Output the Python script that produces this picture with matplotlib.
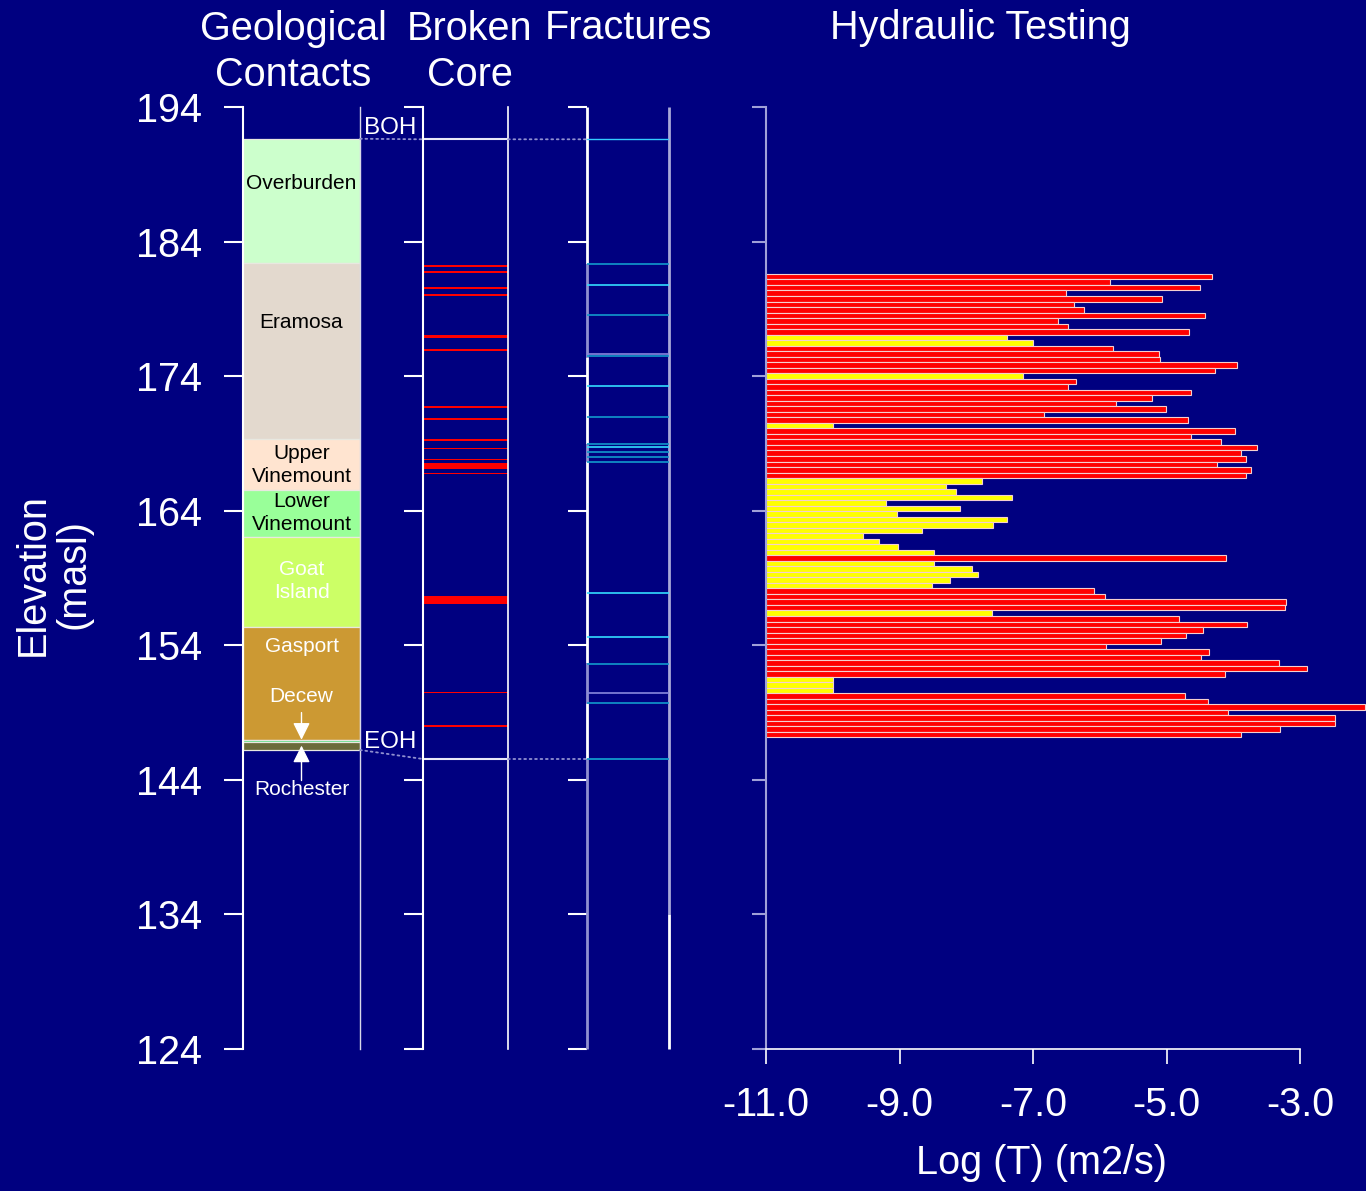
import matplotlib
matplotlib.use('Agg')
import matplotlib.pyplot as plt
from matplotlib.patches import ConnectionPatch

plt.rcParams['font.family'] = ['Liberation Sans', 'DejaVu Sans']
plt.rcParams['axes.unicode_minus'] = False

# ---------------- data ----------------
elev_ticks = [124, 134, 144, 154, 164, 174, 184, 194]
logT_ticks = [-11.0, -9.0, -7.0, -5.0, -3.0]

# geological contacts (masl)
unit_names = ['Overburden', 'Eramosa', 'Upper Vinemount', 'Lower Vinemount',
              'Goat Island', 'Gasport', 'Decew', 'Rochester']
unit_top = [191.64, 182.43, 169.31, 165.54, 162.07, 155.33, 146.98, 146.78]
unit_bot = [182.43, 169.31, 165.54, 162.07, 155.33, 146.98, 146.78, 146.22]
unit_colors = ['#CCFFCC', '#E3D9CE', '#FFE4D0', '#99FF99',
               '#CCFF66', '#CC9933', '#44DD77', '#6B6B3A']

boh_elev = 191.6
eoh_elev = 145.55

# broken core intervals (masl)
core_top = [182.28, 181.81, 180.62, 180.12, 177.06, 176.04, 171.80, 170.91,
            169.35, 168.68, 167.86, 167.57, 166.81, 157.65, 150.54, 148.10]
core_bot = [182.13, 181.66, 180.47, 179.97, 176.80, 175.89, 171.65, 170.76,
            169.18, 168.58, 167.79, 167.13, 166.74, 157.08, 150.46, 147.95]

# fractures (masl) and type: 'o' open, 'p' partial, 'c' closed
frac_elev = [182.36, 180.80, 178.57, 175.61, 175.48, 173.30, 170.93, 168.97,
             168.75, 168.38, 167.97, 167.65, 157.91, 154.63, 152.63, 150.48, 149.71]
frac_type = ['p', 'o', 'p', 'c', 'p', 'o', 'p', 'p',
             'o', 'p', 'p', 'p', 'o', 'o', 'p', 'c', 'p']

# hydraulic test intervals: mid elevation (masl), log T (m2/s), flag (R measured, Y limit)
test_elev = [181.39, 180.98, 180.57, 180.16, 179.75, 179.34, 178.93, 178.52, 178.11, 177.70,
             177.29, 176.88, 176.47, 176.06, 175.65, 175.24, 174.83, 174.42, 174.01, 173.60,
             173.19, 172.78, 172.37, 171.96, 171.55, 171.14, 170.73, 170.32, 169.91, 169.50,
             169.09, 168.68, 168.27, 167.86, 167.45, 167.04, 166.63, 166.22, 165.81, 165.40,
             164.99, 164.58, 164.17, 163.76, 163.35, 162.94, 162.53, 162.12, 161.71, 161.30,
             160.89, 160.48, 160.07, 159.66, 159.25, 158.84, 158.43, 158.02, 157.61, 157.20,
             156.79, 156.38, 155.97, 155.56, 155.15, 154.74, 154.33, 153.92, 153.51, 153.10,
             152.69, 152.28, 151.87, 151.46, 151.05, 150.64, 150.23, 149.82, 149.41, 149.00,
             148.59, 148.18, 147.77, 147.36]
test_logT = [-4.32, -5.85, -4.50, -6.50, -5.06, -6.39, -6.24, -4.42, -6.63, -6.48,
             -4.67, -7.39, -7.00, -5.80, -5.11, -5.09, -3.95, -4.28, -7.15, -6.36,
             -6.47, -4.64, -5.21, -5.75, -5.01, -6.83, -4.68, -10.00, -3.97, -4.64,
             -4.18, -3.64, -3.88, -3.81, -4.24, -3.74, -3.81, -7.77, -8.30, -8.16,
             -7.32, -9.20, -8.09, -9.04, -7.39, -7.60, -8.66, -9.55, -9.30, -9.02,
             -8.49, -4.11, -8.49, -7.92, -7.83, -8.25, -8.52, -6.08, -5.92, -3.21,
             -3.23, -7.62, -4.81, -3.79, -4.46, -4.71, -5.08, -5.91, -4.36, -4.48,
             -3.32, -2.90, -4.12, -10.00, -10.00, -10.00, -4.73, -4.38, -2.03, -4.08,
             -2.48, -2.48, -3.30, -3.89]
test_flag = ['R', 'R', 'R', 'R', 'R', 'R', 'R', 'R', 'R', 'R',
             'R', 'Y', 'Y', 'R', 'R', 'R', 'R', 'R', 'Y', 'R',
             'R', 'R', 'R', 'R', 'R', 'R', 'R', 'Y', 'R', 'R',
             'R', 'R', 'R', 'R', 'R', 'R', 'R', 'Y', 'Y', 'Y',
             'Y', 'Y', 'Y', 'Y', 'Y', 'Y', 'Y', 'Y', 'Y', 'Y',
             'Y', 'R', 'Y', 'Y', 'Y', 'Y', 'Y', 'R', 'R', 'R',
             'R', 'Y', 'R', 'R', 'R', 'R', 'R', 'R', 'R', 'R',
             'R', 'R', 'R', 'Y', 'Y', 'Y', 'R', 'R', 'R', 'R',
             'R', 'R', 'R', 'R']
test_interval = 0.41

# --------------- styling / layout ----------------
BG = '#000080'
WHITE = 'white'
LAV = '#A0A0D8'
W, H = 1366, 1191
FS = 28.5

fig = plt.figure(figsize=(W / 100, H / 100), dpi=100, facecolor=BG)


def rect(x0, x1, y0=107, y1=1049):
    return [x0 / W, 1 - y1 / H, (x1 - x0) / W, (y1 - y0) / H]


ax1 = fig.add_axes(rect(243, 360))
ax2 = fig.add_axes(rect(423, 508))
ax3 = fig.add_axes(rect(587, 669))
ax4 = fig.add_axes(rect(766, 1300))

for ax in (ax1, ax2, ax3, ax4):
    ax.set_facecolor('none')
    ax.set_ylim(124, 194)
    ax.set_yticks(elev_ticks)
    for s in ('top', 'bottom', 'right'):
        ax.spines[s].set_visible(False)
    ax.spines['left'].set_color(WHITE)
    ax.spines['left'].set_linewidth(1.5)
    ax.tick_params(axis='y', direction='out', length=13.5, width=1.5,
                   color=WHITE, labelcolor=WHITE, labelsize=FS, pad=16)

for ax in (ax1, ax2, ax3):
    ax.set_xlim(0, 1)
    ax.set_xticks([])
for ax in (ax2, ax3, ax4):
    ax.tick_params(axis='y', labelleft=False)

# ---- panel 1: geological contacts ----
ax1.spines['right'].set_visible(True)
ax1.spines['right'].set_color('#D8D8E8')
ax1.spines['right'].set_linewidth(1.0)
heights = [t - b for t, b in zip(unit_top, unit_bot)]
ax1.bar([0.5] * len(unit_names), heights, bottom=unit_bot, width=1.0,
        color=unit_colors, edgecolor='#E8E8E0', linewidth=0.9)

label_elev = [188.3, 177.95, 167.4, 163.85, 158.8, 153.9]
label_text = ['Overburden', 'Eramosa', 'Upper\nVinemount', 'Lower\nVinemount',
              'Goat\nIsland', 'Gasport']
label_col = ['black', 'black', 'black', 'black', 'white', 'white']
for e, t, c in zip(label_elev, label_text, label_col):
    ax1.text(0.5, e, t, ha='center', va='center', color=c, fontsize=15,
             linespacing=1.28)
ax1.text(0.5, 150.2, 'Decew', ha='center', va='center', color='white', fontsize=15)
ax1.text(0.5, 143.25, 'Rochester', ha='center', va='center', color='white', fontsize=15)
ax1.annotate('', xy=(0.5, unit_top[6]), xytext=(0.5, 149.0),
             arrowprops=dict(arrowstyle='-|>', color='white', lw=1.0,
                             mutation_scale=26, shrinkA=0, shrinkB=0))
ax1.annotate('', xy=(0.5, 146.55), xytext=(0.5, 143.95),
             arrowprops=dict(arrowstyle='-|>', color='white', lw=1.0,
                             mutation_scale=26, shrinkA=0, shrinkB=0))

ytr = ax1.get_yaxis_transform()
ax1.text(1.035, 192.45, 'BOH', transform=ytr, ha='left', va='center',
         color='white', fontsize=17.5)
ax1.text(1.035, 146.85, 'EOH', transform=ytr, ha='left', va='center',
         color='white', fontsize=17.5)

# ---- panel 2: broken core ----
ax2.spines['right'].set_visible(True)
ax2.spines['right'].set_color(WHITE)
ax2.spines['right'].set_linewidth(1.2)
for t, b in zip(core_top, core_bot):
    ax2.axhspan(b, t, color='#FF0000', lw=0)
ax2.axhline(boh_elev, color='#E8E8F8', lw=1.5)
ax2.axhline(eoh_elev, color='#E8E8F8', lw=1.5)

# ---- panel 3: fractures ----
ax3.spines['left'].set_visible(False)
seg_bounds = [194, 182.36, 175.44, 168.97, 167.69, 152.68, 149.71, 145.58, 124]
seg_cols = [WHITE, '#9090D0', WHITE, '#9090D0', WHITE, '#9090D0', WHITE, '#9090D0']
for (a, b), c in zip(zip(seg_bounds[:-1], seg_bounds[1:]), seg_cols):
    ax3.plot([0, 0], [a, b], color=c, lw=2.0, solid_capstyle='butt', clip_on=False)
ax3.plot([1, 1], [194, 134], color='#A8A8D8', lw=2.0, solid_capstyle='butt', clip_on=False)
ax3.plot([1, 1], [134, 124], color=WHITE, lw=2.0, solid_capstyle='butt', clip_on=False)
fcol = {'o': '#33DDFF', 'p': '#1199CC', 'c': '#8888DD'}
for e, t in zip(frac_elev, frac_type):
    ax3.axhline(e, color=fcol[t], lw=1.2)
ax3.axhline(boh_elev, color='#33CCFF', lw=1.0)
ax3.axhline(eoh_elev, color='#1199CC', lw=1.3)

# connectors
conn_style = dict(color='#9090D0', linestyle=(0, (1, 2)), lw=1.3)
for axA, axB, yA, yB in [(ax1, ax2, unit_top[0], boh_elev),
                         (ax2, ax3, boh_elev, boh_elev),
                         (ax1, ax2, unit_bot[-1], eoh_elev),
                         (ax2, ax3, eoh_elev, eoh_elev)]:
    cp = ConnectionPatch(xyA=(1, yA), coordsA=axA.transData,
                         xyB=(0, yB), coordsB=axB.transData, **conn_style)
    fig.add_artist(cp)

# ---- panel 4: hydraulic testing ----
ax4.set_xlim(-11, -3)
ax4.spines['left'].set_color(LAV)
ax4.spines['left'].set_linewidth(1.5)
ax4.tick_params(axis='y', color=LAV, length=10)
ax4.spines['bottom'].set_visible(True)
ax4.spines['bottom'].set_color(WHITE)
ax4.spines['bottom'].set_linewidth(1.2)
ax4.spines['bottom'].set_bounds(-11, -3)
ax4.set_xticks(logT_ticks)
ax4.set_xticklabels(['%.1f' % v for v in logT_ticks])
ax4.tick_params(axis='x', direction='out', length=11, width=1.2, color=WHITE,
                labelcolor=WHITE, labelsize=FS, pad=16)
col_map = {'R': '#FF0000', 'Y': '#FFFF00'}
bars = ax4.barh(test_elev, [v - (-11) for v in test_logT], left=-11,
                height=test_interval, color=[col_map[f] for f in test_flag],
                edgecolor='#F4D0D0', linewidth=0.8)
for p in bars:
    p.set_clip_on(False)

# ---- titles / labels ----
def ftext(x, y, s, **kw):
    fig.text(x / W, 1 - y / H, s, color='white', fontsize=FS, ha='center',
             va='center', **kw)

ftext(293, 52, 'Geological\nContacts', linespacing=1.25)
ftext(470, 52, 'Broken\nCore', linespacing=1.25)
ftext(628, 28, 'Fractures')
ftext(980, 28, 'Hydraulic Testing')
ftext(1041, 1163, 'Log (T) (m2/s)')
ftext(53, 574, 'Elevation\n(masl)', rotation=90, linespacing=1.08)

fig.savefig('out.png', dpi=100, facecolor=BG)
